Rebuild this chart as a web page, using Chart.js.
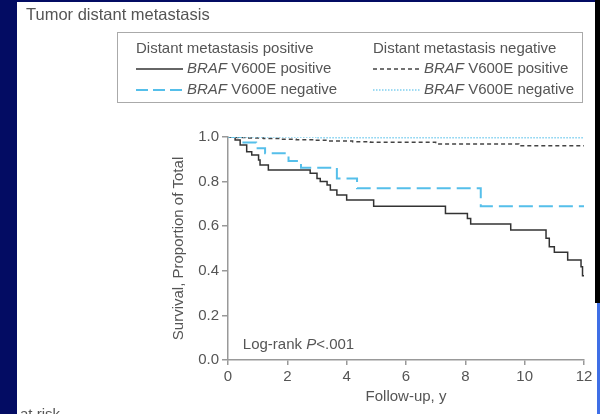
<!DOCTYPE html>
<html>
<head>
<meta charset="utf-8">
<script src="https://cdn.jsdelivr.net/npm/chart.js@4.4.0/dist/chart.umd.min.js"></script>
<style>
  body { margin: 0; background: #fff; }
  #page { position: relative; width: 600px; height: 414px; background: #fff; overflow: hidden;
          font-family: "Liberation Sans", Arial, Helvetica, sans-serif; color: #555; }
  #chartBox { position: absolute; left: 0; top: 0; width: 600px; height: 414px; }
  .strip { position: absolute; }
  #title { position: absolute; left: 26px; top: 5px; font-size: 16.5px; white-space: nowrap; }
  #legend { position: absolute; left: 117px; top: 32px; width: 466px; height: 71px;
            border: 1px solid #aaa; box-sizing: border-box; }
  .lg { position: absolute; font-size: 15px; white-space: nowrap; line-height: 18px; }
  .lg svg { vertical-align: middle; margin-right: 4px; }
  .lg i { font-style: italic; }
  #atrisk { position: absolute; left: 20px; top: 405px; font-size: 15px; white-space: nowrap; }
</style>
</head>
<body>
<div id="page">
  <div id="chartBox"><canvas id="kmChart"></canvas></div>

  <div class="strip" style="left:0;top:0;width:17px;height:414px;background:#030c63"></div>
  <div class="strip" style="left:0;top:0;width:600px;height:2px;background:#030c63"></div>
  <div class="strip" style="left:595px;top:0;width:5px;height:303px;background:#000"></div>
  <div class="strip" style="left:597px;top:303px;width:3px;height:111px;background:#3f6fe6"></div>

  <div id="title">Tumor distant metastasis</div>

  <div id="legend">
    <div class="lg" style="left:18px;top:6px">Distant metastasis positive</div>
    <div class="lg" style="left:18px;top:26px"><svg width="47" height="4"><line x1="0" y1="2" x2="47" y2="2" stroke="#333" stroke-width="1.5"/></svg><i>BRAF</i> V600E positive</div>
    <div class="lg" style="left:18px;top:47px"><svg width="47" height="4"><line x1="0" y1="2" x2="47" y2="2" stroke="#55bfea" stroke-width="2" stroke-dasharray="12 5"/></svg><i>BRAF</i> V600E negative</div>
    <div class="lg" style="left:255px;top:6px">Distant metastasis negative</div>
    <div class="lg" style="left:255px;top:26px"><svg width="47" height="4"><line x1="0" y1="2" x2="47" y2="2" stroke="#444" stroke-width="1.5" stroke-dasharray="4 3"/></svg><i>BRAF</i> V600E positive</div>
    <div class="lg" style="left:255px;top:47px"><svg width="47" height="4"><line x1="0" y1="2" x2="47" y2="2" stroke="#7fd0f0" stroke-width="1.5" stroke-dasharray="1.5 1.5"/></svg><i>BRAF</i> V600E negative</div>
  </div>

  <div id="atrisk">at risk</div>
</div>

<script>
// follow-up years and survival proportions
const dmPosBrafPosYears = [0, 0.24, 0.41, 0.63, 0.8, 1.03, 1.08, 1.36, 2.77, 3.0, 3.11, 3.34, 3.45, 3.67, 4.0, 4.91, 7.33, 8.07, 8.18, 9.53, 10.72, 10.83, 11.0, 11.45, 11.9, 11.95, 12];
const dmPosBrafPosSurv  = [1, 0.987, 0.964, 0.934, 0.919, 0.897, 0.874, 0.852, 0.837, 0.814, 0.80, 0.785, 0.762, 0.74, 0.717, 0.69, 0.657, 0.635, 0.61, 0.583, 0.546, 0.508, 0.483, 0.448, 0.418, 0.378, 0.378];

const dmPosBrafNegYears = [0, 0.45, 0.95, 1.25, 2.04, 2.46, 3.67, 4.35, 8.52, 12];
const dmPosBrafNegSurv  = [1, 0.975, 0.949, 0.927, 0.892, 0.862, 0.814, 0.77, 0.69, 0.69];

const dmNegBrafPosYears = [0, 0.3, 0.7, 1.2, 1.8, 2.3, 2.9, 3.4, 4.2, 4.8, 7.0, 9.8, 12];
const dmNegBrafPosSurv  = [1, 0.998, 0.996, 0.993, 0.99, 0.988, 0.985, 0.982, 0.979, 0.976, 0.969, 0.961, 0.961];

const dmNegBrafNegYears = [0, 3.0, 12];
const dmNegBrafNegSurv  = [1, 0.997, 0.997];

const xTicks = [0, 2, 4, 6, 8, 10, 12];
const yTicks = [0, 0.2, 0.4, 0.6, 0.8, 1.0];

const FONT = '"Liberation Sans", Arial, Helvetica, sans-serif';
const textColor = '#555';
const axisColor = '#999';

const toPoints = (xs, ys) => xs.map((x, i) => ({ x: x, y: ys[i] }));

// "Log-rank P<.001" with italic P
const logRankLabel = {
  id: 'logRankLabel',
  afterDatasetsDraw(chart) {
    const { ctx, scales } = chart;
    let px = scales.x.getPixelForValue(0.5);
    const py = scales.y.getPixelForValue(0.066);
    ctx.save();
    ctx.fillStyle = textColor;
    ctx.textBaseline = 'middle';
    ctx.font = '15px ' + FONT;
    ctx.fillText('Log-rank ', px, py);
    px += ctx.measureText('Log-rank ').width;
    ctx.font = 'italic 15px ' + FONT;
    ctx.fillText('P', px, py);
    px += ctx.measureText('P').width;
    ctx.font = '15px ' + FONT;
    ctx.fillText('<.001', px, py);
    ctx.restore();
  }
};

const ctx = document.getElementById('kmChart').getContext('2d');
const kmChart = new Chart(ctx, {
  type: 'line',
  data: {
    datasets: [
      {
        label: 'Distant metastasis negative, BRAF V600E negative',
        data: toPoints(dmNegBrafNegYears, dmNegBrafNegSurv),
        borderColor: '#7fd0f0',
        borderWidth: 1.5,
        borderDash: [1.5, 1.5]
      },
      {
        label: 'Distant metastasis negative, BRAF V600E positive',
        data: toPoints(dmNegBrafPosYears, dmNegBrafPosSurv),
        borderColor: '#444',
        borderWidth: 1.5,
        borderDash: [4, 3]
      },
      {
        label: 'Distant metastasis positive, BRAF V600E negative',
        data: toPoints(dmPosBrafNegYears, dmPosBrafNegSurv),
        borderColor: '#55bfea',
        borderWidth: 2,
        borderDash: [14, 6]
      },
      {
        label: 'Distant metastasis positive, BRAF V600E positive',
        data: toPoints(dmPosBrafPosYears, dmPosBrafPosSurv),
        borderColor: '#333',
        borderWidth: 1.5
      }
    ]
  },
  options: {
    responsive: true,
    maintainAspectRatio: false,
    animation: false,
    elements: {
      point: { radius: 0 },
      line: { stepped: true, fill: false, tension: 0 }
    },
    layout: { padding: { left: 166, top: 137, right: 16, bottom: 4 } },
    scales: {
      x: {
        type: 'linear',
        min: 0,
        max: 12,
        afterBuildTicks: (scale) => { scale.ticks = xTicks.map(v => ({ value: v })); },
        afterFit: (scale) => { scale.height = 50; },
        border: { color: axisColor, width: 1.5 },
        grid: { display: true, drawOnChartArea: false, drawTicks: true, tickLength: 5, color: axisColor, lineWidth: 1.5 },
        ticks: { font: { size: 15, family: FONT }, color: textColor, padding: 3, maxRotation: 0 },
        title: { display: true, text: 'Follow-up, y', font: { size: 15, family: FONT }, color: textColor, padding: 4 }
      },
      y: {
        type: 'linear',
        min: 0,
        max: 1,
        afterBuildTicks: (scale) => { scale.ticks = yTicks.map(v => ({ value: v })); },
        afterFit: (scale) => { scale.width = 62; },
        border: { color: axisColor, width: 1.5 },
        grid: { display: true, drawOnChartArea: false, drawTicks: true, tickLength: 6, color: axisColor, lineWidth: 1.5 },
        ticks: { font: { size: 15, family: FONT }, color: textColor, padding: 3, callback: (v) => Number(v).toFixed(1) },
        title: { display: true, text: 'Survival, Proportion of Total', font: { size: 15, family: FONT }, color: textColor, padding: 4 }
      }
    },
    plugins: {
      legend: { display: false },
      tooltip: { enabled: false }
    }
  },
  plugins: [logRankLabel]
});
</script>
</body>
</html>
